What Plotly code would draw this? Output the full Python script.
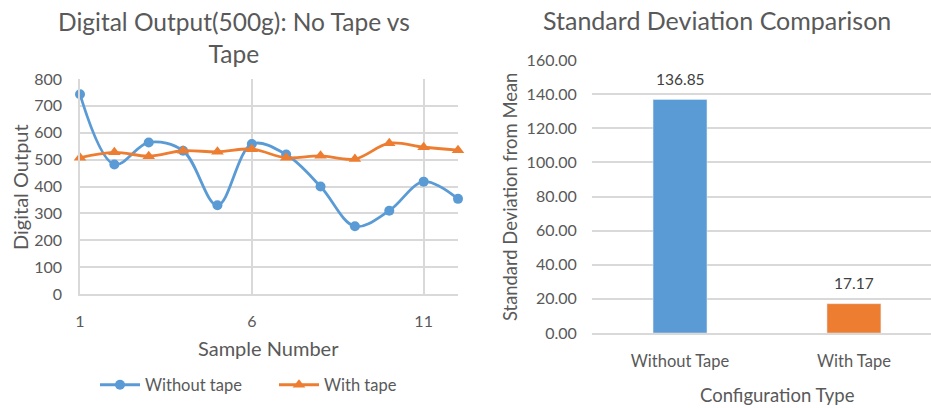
import plotly.graph_objects as go

# Sample readings at 500 g
samples = list(range(1, 13))
without_tape = [743, 482, 564, 533, 330, 558, 519, 400, 252, 310, 418, 354]
with_tape = [507, 527, 513, 533, 529, 539, 507, 514, 502, 561, 546, 535]

# Standard deviation summary
configs = ["Without Tape", "With Tape"]
std_devs = [136.85, 17.17]

BLUE = "#5B9BD5"
ORANGE = "#ED7D31"
TEXT = "#595959"
GRID = "#D9D9D9"
FONT = "Lato"
CLEAR = "rgba(0,0,0,0)"

W, H = 931, 408


def px(x):
    return x / W


def py(y):
    return 1 - y / H


fig = go.Figure()

fig.add_trace(go.Scatter(
    x=samples, y=without_tape, name="Without tape", mode="lines+markers",
    line=dict(color=BLUE, width=2.8, shape="spline", smoothing=1.0),
    marker=dict(symbol="circle", size=10, color=BLUE),
    cliponaxis=False, xaxis="x", yaxis="y",
))
fig.add_trace(go.Scatter(
    x=samples, y=with_tape, name="With tape", mode="lines+markers",
    line=dict(color=ORANGE, width=2.8, shape="spline", smoothing=1.0),
    marker=dict(symbol="triangle-up", size=11, color=ORANGE),
    cliponaxis=False, xaxis="x", yaxis="y",
))

fig.add_trace(go.Bar(
    x=configs, y=std_devs, marker=dict(color=[BLUE, ORANGE]),
    width=0.31, showlegend=False, xaxis="x2", yaxis="y2",
))

tick_font = dict(family=FONT, size=16, color=TEXT)

fig.update_layout(
    width=W, height=H,
    margin=dict(l=0, r=0, t=0, b=0, autoexpand=False),
    paper_bgcolor="white", plot_bgcolor="white",
    font=dict(family=FONT, color=TEXT),
    xaxis=dict(
        domain=[px(80), px(458)], range=[1, 12],
        tickmode="array", tickvals=[1, 6, 11],
        ticks="outside", ticklen=12, tickcolor=CLEAR,
        showgrid=True, gridcolor=GRID, gridwidth=1.5,
        showline=True, linecolor=GRID, linewidth=1.5,
        zeroline=False, tickfont=tick_font, anchor="y",
    ),
    yaxis=dict(
        domain=[py(294), py(79)], range=[0, 800], dtick=100,
        ticks="outside", ticklen=13, tickcolor=CLEAR,
        showgrid=True, gridcolor=GRID, gridwidth=1.5,
        showline=True, linecolor=GRID, linewidth=1.5,
        zeroline=False, tickfont=tick_font, anchor="x",
    ),
    xaxis2=dict(
        domain=[px(592), 1.0], range=[-0.506, 1.443],
        ticks="outside", ticklen=12, tickcolor=CLEAR, showgrid=False,
        showline=True, linecolor=GRID, linewidth=1.5,
        tickfont=dict(family=FONT, size=16.5, color=TEXT), anchor="y2",
    ),
    yaxis2=dict(
        domain=[py(333), py(60)], range=[0, 160], dtick=20,
        tickformat=".2f", showgrid=True, gridcolor=GRID, gridwidth=1.5,
        showline=False, zeroline=False,
        ticks="outside", ticklen=11, tickcolor=CLEAR,
        tickfont=tick_font, anchor="x2",
    ),
    legend=dict(
        orientation="h", x=px(95), y=py(385), xanchor="left", yanchor="middle",
        font=dict(family=FONT, size=16.5, color=TEXT), itemwidth=40,
        entrywidth=124, bgcolor=CLEAR,
    ),
)

annotations = [
    dict(text="Digital Output(500g): No Tape vs<br>Tape", x=px(234), y=py(37),
         font=dict(family=FONT, size=24.5, color=TEXT)),
    dict(text="Sample Number", x=px(268), y=py(348),
         font=dict(family=FONT, size=20, color=TEXT)),
    dict(text="Digital Output", x=px(20), y=py(187), textangle=-90,
         font=dict(family=FONT, size=20, color=TEXT)),
    dict(text="Standard Deviation Comparison", x=px(717), y=py(20),
         font=dict(family=FONT, size=25, color=TEXT)),
    dict(text="Configuration Type", x=px(777), y=py(395),
         font=dict(family=FONT, size=18.5, color=TEXT)),
    dict(text="Standard Deviation from Mean", x=px(510), y=py(197), textangle=-90,
         font=dict(family=FONT, size=18.4, color=TEXT)),
]
for a in annotations:
    a.update(xref="paper", yref="paper", showarrow=False,
             xanchor="center", yanchor="middle")

# Value labels sitting above each bar
for cat, val in zip(configs, std_devs):
    annotations.append(dict(
        text=f"{val:.2f}", x=cat, y=val, xref="x2", yref="y2",
        showarrow=False, xanchor="center", yanchor="bottom", yshift=10,
        font=dict(family=FONT, size=15.5, color="#404040"),
    ))

fig.update_layout(annotations=annotations)

fig.write_html("out.html")
